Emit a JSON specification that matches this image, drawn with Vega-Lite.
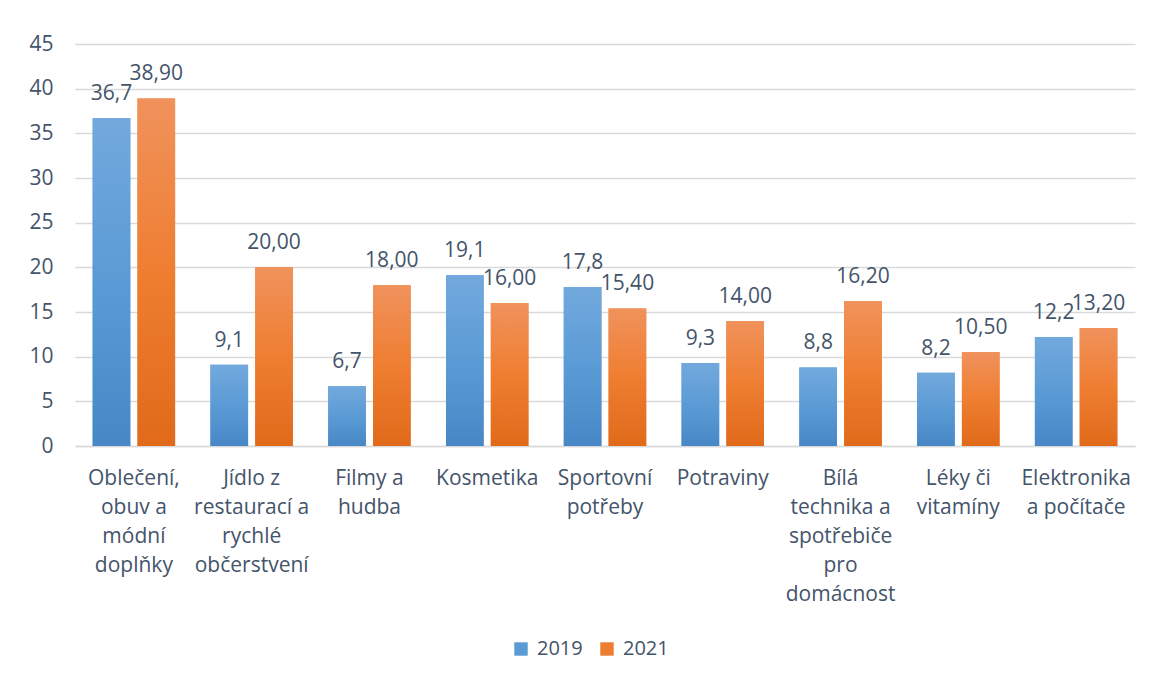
{
  "$schema": "https://vega.github.io/schema/vega-lite/v6.json",
  "width": 1060,
  "height": 402,
  "autosize": "none",
  "padding": {"left": 75, "top": 44, "right": 14, "bottom": 233},
  "background": "white",
  "config": {
    "font": "Open Sans",
    "view": {"stroke": null},
    "axis": {"labelFont": "Open Sans", "labelFontSize": 21, "labelColor": "#44546A", "titleColor": "#44546A"},
    "legend": {"labelFont": "Open Sans", "labelFontSize": 20, "labelColor": "#44546A"}
  },
  "data": {
    "values": [
      {"category": "Oblečení,|obuv a|módní|doplňky", "year": "2019", "value": 36.7},
      {"category": "Oblečení,|obuv a|módní|doplňky", "year": "2021", "value": 38.9},
      {"category": "Jídlo z|restaurací a|rychlé|občerstvení", "year": "2019", "value": 9.1},
      {"category": "Jídlo z|restaurací a|rychlé|občerstvení", "year": "2021", "value": 20.0},
      {"category": "Filmy a|hudba", "year": "2019", "value": 6.7},
      {"category": "Filmy a|hudba", "year": "2021", "value": 18.0},
      {"category": "Kosmetika", "year": "2019", "value": 19.1},
      {"category": "Kosmetika", "year": "2021", "value": 16.0},
      {"category": "Sportovní|potřeby", "year": "2019", "value": 17.8},
      {"category": "Sportovní|potřeby", "year": "2021", "value": 15.4},
      {"category": "Potraviny", "year": "2019", "value": 9.3},
      {"category": "Potraviny", "year": "2021", "value": 14.0},
      {"category": "Bílá|technika a|spotřebiče|pro|domácnost", "year": "2019", "value": 8.8},
      {"category": "Bílá|technika a|spotřebiče|pro|domácnost", "year": "2021", "value": 16.2},
      {"category": "Léky či|vitamíny", "year": "2019", "value": 8.2},
      {"category": "Léky či|vitamíny", "year": "2021", "value": 10.5},
      {"category": "Elektronika|a počítače", "year": "2019", "value": 12.2},
      {"category": "Elektronika|a počítače", "year": "2021", "value": 13.2}
    ]
  },
  "transform": [
    {"calculate": "replace(format(datum.value, datum.year === '2019' ? '.1f' : '.2f'), '.', ',')", "as": "label"}
  ],
  "encoding": {
    "x": {
      "field": "category",
      "type": "nominal",
      "sort": null,
      "scale": {"paddingInner": 0.3, "paddingOuter": 0.15},
      "axis": {
        "title": null,
        "labelAngle": 0,
        "labelExpr": "split(datum.label, '|')",
        "labelLineHeight": 29,
        "labelPadding": 21,
        "ticks": false,
        "tickSize": 0,
        "domainColor": "#d9d9d9",
        "domainWidth": 1.5,
        "labelLimit": 200
      }
    },
    "xOffset": {"field": "year", "type": "nominal", "scale": {"paddingInner": 0.16}},
    "y": {
      "field": "value",
      "type": "quantitative",
      "scale": {"domain": [0, 45], "nice": false},
      "axis": {
        "title": null,
        "values": [0, 5, 10, 15, 20, 25, 30, 35, 40, 45],
        "domain": false,
        "ticks": false,
        "tickSize": 0,
        "labelPadding": 22,
        "gridColor": "#d9d9d9",
        "gridWidth": 1.5
      }
    }
  },
  "layer": [
    {
      "mark": {"type": "bar"},
      "encoding": {
        "color": {
          "field": "year",
          "type": "nominal",
          "scale": {"domain": ["2019", "2021"], "range": ["#5b9bd5", "#ed7d31"]},
          "legend": {
            "title": null,
            "orient": "none",
            "direction": "horizontal",
            "legendX": 436,
            "legendY": 595,
            "symbolType": "square",
            "symbolSize": 180,
            "symbolStrokeWidth": 0,
            "labelOffset": 6,
            "columnPadding": 14
          }
        }
      }
    },
    {
      "mark": {"type": "bar"},
      "encoding": {
        "fill": {
          "condition": {
            "test": "datum.year === '2019'",
            "value": {
              "gradient": "linear", "x1": 0, "y1": 0, "x2": 0, "y2": 1,
              "stops": [
                {"offset": 0, "color": "#72a9dd"},
                {"offset": 0.5, "color": "#5b9bd5"},
                {"offset": 1, "color": "#4787c6"}
              ]
            }
          },
          "value": {
            "gradient": "linear", "x1": 0, "y1": 0, "x2": 0, "y2": 1,
            "stops": [
              {"offset": 0, "color": "#f0925c"},
              {"offset": 0.5, "color": "#ef7e31"},
              {"offset": 1, "color": "#e06a1a"}
            ]
          }
        }
      }
    },
    {
      "mark": {"type": "text", "baseline": "alphabetic", "dy": -18, "fontSize": 21, "color": "#44546A", "font": "Open Sans"},
      "encoding": {
        "text": {"field": "label", "type": "nominal"}
      }
    }
  ]
}
